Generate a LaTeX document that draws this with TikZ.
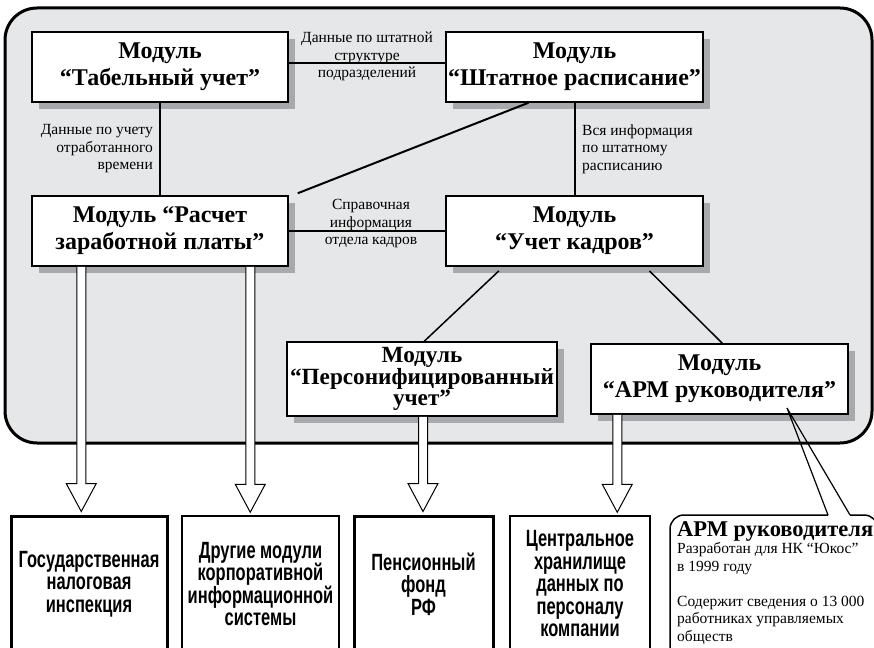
\documentclass[tikz,border=0pt]{standalone}
\usepackage{fontspec}
\setmainfont{Liberation Serif}
\newfontfamily\condsans[FakeStretch=0.7]{Liberation Sans}
\usetikzlibrary{calc,shadows}
\definecolor{panel}{HTML}{E6E7E8}
\definecolor{shade}{HTML}{A7A9AC}

\begin{document}
\begin{tikzpicture}[x=1pt,y=-1pt,
    module/.style={draw,line width=1.5pt,fill=white,align=center,inner sep=0pt,
      minimum width=256pt,minimum height=70pt,
      font=\fontsize{24pt}{27pt}\selectfont\bfseries,
      drop shadow={shadow xshift=7pt,shadow yshift=-7pt,fill=shade,opacity=1}},
    target/.style={draw,fill=white,align=center,minimum height=136pt,inner sep=0pt,
      font=\condsans\bfseries\fontsize{23.5pt}{22.5pt}\selectfont},
    lbl/.style={font=\fontsize{15.5pt}{17.5pt}\selectfont,inner sep=0pt},
    link/.style={line width=2pt},
    hollow/.style={fill=white,line width=1pt,to path={let \p1=(\tikztostart),\p2=(\tikztotarget) in
      (\x1-4.5pt,\y1) -- (\x1-4.5pt,\y2+31pt) -- (\x1-15pt,\y2+31pt) -- (\x1,\y2+3pt)
      -- (\x1+15pt,\y2+31pt) -- (\x1+4.5pt,\y2+31pt) -- (\x1+4.5pt,\y1)}}]
  \useasboundingbox (0,0) rectangle (874,647);
  \clip (0,0) rectangle (874,647);
  \draw[line width=3pt,fill=panel,rounded corners=32pt] (5,8) rectangle (872,443);

  \node[module] (tabel) at (160,67) {Модуль\\“Табельный учет”};
  \node[module,minimum width=257pt] (shtat) at (574.5,67) {Модуль\\“Штатное расписание”};
  \node[module] (raschet) at (160,231) {Модуль “Расчет\\заработной платы”};
  \node[module,minimum width=257pt] (kadry) at (574.5,231) {Модуль\\“Учет кадров”};
  \node[module,minimum width=270pt,minimum height=74pt,
    font=\fontsize{23.2pt}{21.5pt}\selectfont\bfseries] (person) at (422,379) {Модуль\\“Персонифицированный\\учет”};
  \node[module,minimum width=257pt] (arm) at (719.5,379) {Модуль\\“АРМ руководителя”};

  \draw[link] ([yshift=4pt]tabel.east) -- ([yshift=4pt]shtat.west);
  \draw[link] (tabel) -- (raschet);
  \draw[link] (shtat) -- (kadry);
  \draw[link] (raschet) -- (kadry);
  \draw[link] ([xshift=-46pt]shtat.south) -- ([xshift=9pt,yshift=2pt]raschet.north east);
  \draw[line width=1.5pt,shorten <=6pt] ([xshift=58pt]kadry.south west) -- ([xshift=138pt]person.north west);
  \draw[line width=1.5pt,shorten <=6pt] ([xshift=200pt]kadry.south west) -- ([xshift=132pt]arm.north west);

  \node[target,line width=3pt,minimum width=156pt] (gni) at (89,584) {Государственная\\налоговая\\инспекция};
  \node[target,line width=1.5pt,minimum width=157pt] (drugie) at (260.5,584) {Другие модули\\корпоративной\\информационной\\системы};
  \node[target,line width=3pt,minimum width=139pt] (pfr) at (423.5,584) {Пенсионный\\фонд\\РФ};
  \node[target,line width=1.5pt,minimum width=140pt] (hran) at (580,584) {Центральное\\хранилище\\данных по\\персоналу\\компании};

  \draw[hollow] ([xshift=50pt]raschet.south west) to (gni.north);
  \draw[hollow] ([xshift=219pt]raschet.south west) to (drugie.north);
  \draw[hollow] ([xshift=1pt]person.south) to (pfr.north);
  \draw[hollow] ([xshift=27pt]arm.south west) to (hran.north);

  \node[lbl,align=center] (lblstruct) at (367,48) {Данные по штатной\\структуре};
  \node[lbl] (lblpodr) at (367,74) {подразделений};
  \node[lbl,align=right,anchor=east] (lbltime) at (153,149) {Данные по учету\\отработанного\\времени};
  \node[lbl,align=left,anchor=west] (lblall) at (582,149) {Вся информация\\по штатному\\расписанию};
  \node[lbl,align=center] (lblref) at (371,215) {Справочная\\информация};
  \node[lbl] (lbldept) at (371,242) {отдела кадров};

  \coordinate (gapl) at (828,515);
  \coordinate (gapr) at (850,515);
  \coordinate (armtip) at (787,408);
  \draw[fill=white,line width=1.5pt,rounded corners=14pt] (gapl) -- (670,515) -- (670,680) -- (878,680) -- (878,515) -- (gapr);
  \draw[line width=1.2pt] (gapl) -- (armtip) -- (gapr);
  \node[lbl,anchor=north west,align=left] (armnote) at (677,521)
    {{\fontsize{22.5pt}{22pt}\selectfont\bfseries АРМ руководителя}\\Разработан для НК “Юкос”\\в 1999 году\\[17.5pt]Содержит сведения о 13~000\\работниках управляемых\\обществ};
\end{tikzpicture}
\end{document}
